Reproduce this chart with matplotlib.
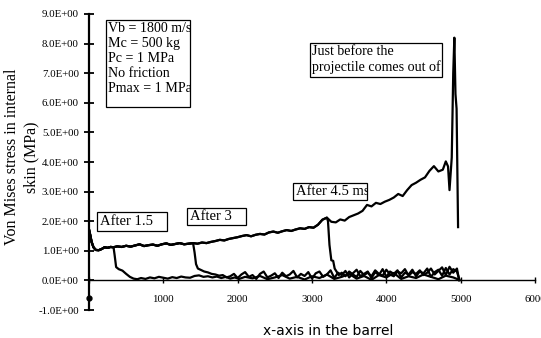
import matplotlib
matplotlib.use("Agg")
import matplotlib.pyplot as plt
from matplotlib.patches import Rectangle

# ---------------- data ----------------
# stress curve that keeps rising until the muzzle (shared by all curves before their drop)
high_x = [0, 15, 35, 60, 90, 130, 170, 210, 250, 290, 330, 380, 440, 500, 560, 620, 680,
          740, 800, 860, 920, 980, 1040, 1100, 1160, 1220, 1280, 1340, 1400, 1460, 1520,
          1580, 1640, 1700, 1760, 1820, 1880, 1940, 2000, 2060, 2120, 2180, 2240, 2300,
          2360, 2420, 2480, 2540, 2600, 2660, 2720, 2780, 2840, 2900, 2960, 3020, 3080,
          3140, 3200, 3260, 3320, 3380, 3440, 3500, 3560, 3620, 3680, 3740, 3800, 3860,
          3920, 3980, 4040, 4100, 4160, 4220, 4280, 4340, 4400, 4460, 4520, 4580, 4640,
          4700, 4760, 4800, 4830, 4850, 4880]
high_y = [1.72, 1.55, 1.30, 1.12, 1.03, 1.02, 1.06, 1.12, 1.10, 1.13, 1.12, 1.15, 1.13,
          1.17, 1.14, 1.18, 1.22, 1.16, 1.19, 1.21, 1.17, 1.22, 1.25, 1.20, 1.23, 1.26,
          1.22, 1.24, 1.26, 1.24, 1.28, 1.26, 1.30, 1.33, 1.37, 1.35, 1.40, 1.43, 1.46,
          1.50, 1.53, 1.49, 1.54, 1.57, 1.55, 1.62, 1.65, 1.61, 1.66, 1.70, 1.67, 1.72,
          1.76, 1.74, 1.80, 1.78, 1.88, 2.05, 2.12, 1.98, 1.96, 2.06, 2.02, 2.14, 2.20,
          2.26, 2.35, 2.55, 2.50, 2.62, 2.58, 2.66, 2.72, 2.80, 2.92, 2.85, 3.05, 3.22,
          3.30, 3.40, 3.48, 3.70, 3.86, 3.68, 3.74, 4.02, 3.85, 3.05, 4.15]

# final oscillation just before the projectile leaves the barrel
spike_x = [4900, 4915, 4930, 4945, 4965]
spike_y = [7.0, 8.2, 6.3, 5.8, 1.8]

# curve "After 1.5": drop after x = 330
drop_a_x = [345, 365, 400, 450, 500, 550, 600, 650, 700, 760, 820, 880, 940, 1000, 1060,
            1120, 1180, 1240, 1300, 1360, 1420, 1480, 1540, 1600, 1660, 1720, 1780, 1840,
            1900, 1960, 2020, 2100, 2200, 2300, 2400, 2500, 2600, 2700, 2800, 2900, 3000,
            3100, 3200, 3300, 3400, 3500, 3600, 3700, 3800, 3900, 4000, 4100, 4200, 4300,
            4400, 4500, 4600, 4700, 4800, 4900, 4980]
drop_a_y = [0.85, 0.45, 0.38, 0.33, 0.22, 0.12, 0.06, 0.04, 0.08, 0.05, 0.10, 0.07, 0.12,
            0.09, 0.06, 0.11, 0.08, 0.13, 0.10, 0.09, 0.15, 0.17, 0.12, 0.14, 0.10, 0.13,
            0.08, 0.12, 0.06, 0.10, 0.05, 0.12, 0.07, 0.15, 0.04, 0.10, 0.18, 0.06, 0.12,
            0.03, 0.14, 0.08, 0.20, 0.05, 0.12, 0.22, 0.06, 0.15, 0.02, 0.18, 0.10, 0.25,
            0.05, 0.14, 0.08, 0.20, 0.12, 0.04, 0.16, 0.10, 0.02]

# curve "After 3": drop after x = 1400
drop_b_x = [1420, 1440, 1465, 1500, 1550, 1600, 1650, 1700, 1750, 1800, 1850, 1900, 1950,
            2000, 2050, 2100, 2150, 2200, 2250, 2300, 2350, 2400, 2450, 2500, 2550, 2600,
            2650, 2700, 2750, 2800, 2850, 2900, 2950, 3000, 3050, 3100, 3150, 3200, 3250,
            3300, 3350, 3400, 3450, 3500, 3550, 3600, 3650, 3700, 3750, 3800, 3850, 3900,
            3950, 4000, 4050, 4100, 4150, 4200, 4250, 4300, 4350, 4400, 4450, 4500, 4550,
            4600, 4650, 4700, 4750, 4800, 4850, 4900, 4950, 4980]
drop_b_y = [0.95, 0.55, 0.40, 0.36, 0.30, 0.27, 0.22, 0.20, 0.16, 0.18, 0.10, 0.14, 0.22,
            0.08, 0.20, 0.28, 0.12, 0.18, 0.05, 0.22, 0.30, 0.10, 0.16, 0.24, 0.08, 0.26,
            0.14, 0.20, 0.32, 0.10, 0.22, 0.15, 0.28, 0.06, 0.24, 0.30, 0.12, 0.20, 0.34,
            0.08, 0.26, 0.18, 0.32, 0.10, 0.24, 0.36, 0.14, 0.22, 0.30, 0.08, 0.28, 0.18,
            0.38, 0.12, 0.30, 0.22, 0.34, 0.10, 0.26, 0.20, 0.36, 0.14, 0.30, 0.24, 0.40,
            0.12, 0.28, 0.36, 0.16, 0.42, 0.20, 0.38, 0.30, 0.05]

# curve "After 4.5 ms": drop after x = 3200
drop_c_x = [3215, 3235, 3260, 3285, 3305, 3330, 3360, 3400, 3450, 3500, 3550, 3600, 3650,
            3700, 3750, 3800, 3850, 3900, 3950, 4000, 4050, 4100, 4150, 4200, 4250, 4300,
            4350, 4400, 4450, 4500, 4550, 4600, 4650, 4700, 4750, 4800, 4850, 4900, 4950,
            4980]
drop_c_y = [2.00, 1.20, 0.68, 0.66, 0.40, 0.30, 0.18, 0.26, 0.14, 0.30, 0.20, 0.12, 0.32,
            0.18, 0.26, 0.14, 0.34, 0.22, 0.16, 0.36, 0.20, 0.14, 0.30, 0.24, 0.38, 0.16,
            0.28, 0.22, 0.34, 0.18, 0.26, 0.40, 0.20, 0.32, 0.44, 0.18, 0.46, 0.26, 0.40,
            0.00]

# isolated point at the origin of the barrel
origin_x = [0]
origin_y = [-0.6]

y_ticks = [-1, 0, 1, 2, 3, 4, 5, 6, 7, 8, 9]
x_ticks = [0, 1000, 2000, 3000, 4000, 5000, 6000]
x_tick_labels = ["", "1000", "2000", "3000", "4000", "5000", "6000"]

info_text = "Vb = 1800 m/s\nMc = 500 kg\nPc = 1 MPa\nNo friction\nPmax = 1 MPa"
exit_text = "Just before the\nprojectile comes out of"
label_a = "After 1.5"
label_b = "After 3"
label_c = "After 4.5 ms"
x_label = "x-axis in the barrel"
y_label = "Von Mises stress in internal\nskin (MPa)"


def upto(xs, ys, xmax):
    px = [x for x in xs if x <= xmax]
    return px, ys[:len(px)]


# ---------------- figure ----------------
serif = ["Liberation Serif", "DejaVu Serif"]
plt.rcParams["font.family"] = serif

fig = plt.figure(figsize=(5.41, 3.38), dpi=100)
ax = fig.add_axes([89 / 541, 28 / 338, 446 / 541, 296 / 338])
ax.set_xlim(0, 6000)
ax.set_ylim(-1, 9)

lw = 1.6
# exit curve
ax.plot(high_x + spike_x, high_y + spike_y, color="black", lw=lw, zorder=3)
# after 4.5 ms
hx, hy = upto(high_x, high_y, 3200)
ax.plot(hx + drop_c_x, hy + drop_c_y, color="black", lw=lw, zorder=3)
# after 3
hx, hy = upto(high_x, high_y, 1400)
ax.plot(hx + drop_b_x, hy + drop_b_y, color="black", lw=lw, zorder=3)
# after 1.5
hx, hy = upto(high_x, high_y, 330)
ax.plot(hx + drop_a_x, hy + drop_a_y, color="black", lw=lw, zorder=3)

ax.plot(origin_x, origin_y, marker="o", ms=3.5, color="black", ls="none",
        clip_on=False, zorder=4)

# axes styling (Excel-like)
for s in ("top", "right"):
    ax.spines[s].set_visible(False)
ax.spines["bottom"].set_position(("data", 0))
ax.spines["bottom"].set_linewidth(1.0)
ax.spines["left"].set_linewidth(1.6)

ax.set_yticks(y_ticks)
ax.set_yticklabels(["{:.1E}".format(v) for v in y_ticks])
ax.set_xticks(x_ticks)
ax.set_xticklabels(x_tick_labels)
ax.tick_params(axis="y", direction="inout", length=6.5, width=1.3, labelsize=7.8, pad=4)
ax.tick_params(axis="x", direction="inout", length=4, width=1.0, labelsize=7.8, pad=8.3)

# text boxes (clipped like the original)
def text_box(x0, x1, y0, y1, text, tx, ty, va="top", fs=10.5, ls=1.2):
    rect = Rectangle((x0, y0), x1 - x0, y1 - y0, facecolor="white",
                     edgecolor="black", lw=0.9, zorder=5)
    ax.add_patch(rect)
    t = ax.text(tx, ty, text, fontsize=fs, ha="left", va=va, linespacing=ls,
                zorder=6, clip_on=True)
    t.set_clip_path(rect)
    return t

text_box(229, 1359, 5.86, 8.80, info_text, 250, 8.72, va="top", fs=10.1, ls=1.2)
text_box(2973, 4749, 6.87, 8.02, exit_text, 3000, 7.96, va="top", fs=10.1, ls=1.18)
text_box(108, 1049, 1.67, 2.31, label_a, 150, 1.99, va="center")
text_box(1318, 2112, 1.87, 2.45, label_b, 1358, 2.16, va="center")
text_box(2744, 3740, 2.72, 3.29, label_c, 2784, 3.00, va="center")

fig.text(328.5 / 541, 1 - 331 / 338, x_label, ha="center", va="center",
         fontsize=10, family=["DejaVu Sans"])
fig.text(22 / 541, 1 - 157 / 338, y_label, ha="center", va="center",
         rotation=90, fontsize=11.5, multialignment="center", linespacing=1.25)

fig.savefig("out.png", dpi=100)
